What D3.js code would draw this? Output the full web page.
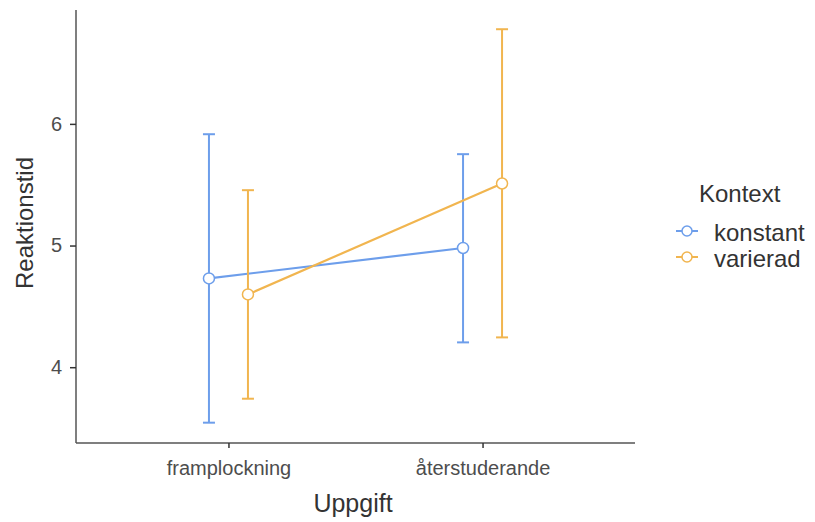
<!DOCTYPE html>
<html>
<head>
<meta charset="utf-8">
<script src="https://cdn.jsdelivr.net/npm/d3@7"></script>
<style>
  html, body { margin: 0; padding: 0; background: #fff; }
  svg { display: block; font-family: "Liberation Sans", Arial, sans-serif; }
</style>
</head>
<body>
<svg id="chart" width="815" height="522"></svg>
<script>
// Task categories on the x axis and context groups
const tasks = ["framplockning", "återstuderande"];
const contexts = ["konstant", "varierad"];
const colors = ["#6d9eeb", "#f1b54f"];

// Mean reaction time and interval bounds per context (ordered as tasks)
const konstantMean = [4.73, 4.98];
const konstantLow  = [3.544, 4.204];
const konstantHigh = [5.915, 5.751];
const varieradMean = [4.598, 5.51];
const varieradLow  = [3.741, 4.245];
const varieradHigh = [5.455, 6.778];

const yTicks = [4, 5, 6];

const series = [
  { name: contexts[0], color: colors[0], mean: konstantMean, low: konstantLow, high: konstantHigh },
  { name: contexts[1], color: colors[1], mean: varieradMean, low: varieradLow, high: varieradHigh }
];

const svg = d3.select("#chart");
const plotL = 76, plotR = 635, plotT = 10, plotB = 443;

const x = d3.scalePoint().domain(tasks).range([plotL, plotR]).padding(0.6);
const dodge = d3.scalePoint().domain(contexts).range([-19.5, 19.5]);
const y = d3.scaleLinear().domain([3.377, 6.936]).range([plotB, plotT]);

// Axes
const xAxis = svg.append("g").attr("transform", `translate(0,${plotB})`)
  .call(d3.axisBottom(x).tickSize(5).tickPadding(13));
xAxis.select(".domain").attr("d", `M${plotL},0H${plotR}`);
const yAxis = svg.append("g").attr("transform", `translate(${plotL},0)`)
  .call(d3.axisLeft(y).tickValues(yTicks).tickSize(6).tickPadding(8).tickFormat(d3.format("d")));
yAxis.select(".domain").attr("d", `M0,${plotT}V${plotB}`);

svg.selectAll(".domain").attr("stroke", "#555").attr("stroke-width", 1.5);
svg.selectAll(".tick line").attr("stroke", "#333").attr("stroke-width", 1.5);
svg.selectAll(".tick text").attr("fill", "#4d4d4d").style("font-size", "20px");

// Axis titles
svg.append("text").attr("x", 353).attr("y", 512)
  .attr("text-anchor", "middle").attr("fill", "#333").style("font-size", "25px").text("Uppgift");
svg.append("text").attr("transform", `translate(33,223) rotate(-90)`)
  .attr("text-anchor", "middle").attr("fill", "#333").style("font-size", "24px").text("Reaktionstid");

// Error bars, connecting lines and points
const cap = 6;
series.forEach(s => {
  const g = svg.append("g");
  const px = i => x(tasks[i]) + dodge(s.name);
  tasks.forEach((t, i) => {
    g.append("line").attr("x1", px(i)).attr("x2", px(i))
      .attr("y1", y(s.low[i])).attr("y2", y(s.high[i]))
      .attr("stroke", s.color).attr("stroke-width", 2);
    [s.low[i], s.high[i]].forEach(v => {
      g.append("line").attr("x1", px(i) - cap).attr("x2", px(i) + cap)
        .attr("y1", y(v)).attr("y2", y(v))
        .attr("stroke", s.color).attr("stroke-width", 2);
    });
  });
  g.append("path")
    .attr("d", d3.line().x((d, i) => px(i)).y(d => y(d))(s.mean))
    .attr("fill", "none").attr("stroke", s.color).attr("stroke-width", 2.2);
  g.selectAll("circle").data(s.mean).join("circle")
    .attr("cx", (d, i) => px(i)).attr("cy", d => y(d)).attr("r", 5.5)
    .attr("fill", "#fff").attr("stroke", s.color).attr("stroke-width", 1.5);
});

// Legend
const legend = svg.append("g");
legend.append("text").attr("x", 699).attr("y", 202).attr("fill", "#333")
  .style("font-size", "24px").text("Kontext");
series.forEach((s, i) => {
  const ly = 231 + i * 26;
  legend.append("line").attr("x1", 676).attr("x2", 698).attr("y1", ly).attr("y2", ly)
    .attr("stroke", s.color).attr("stroke-width", 2);
  legend.append("circle").attr("cx", 687).attr("cy", ly).attr("r", 5)
    .attr("fill", "#fff").attr("stroke", s.color).attr("stroke-width", 1.5);
  legend.append("text").attr("x", 714).attr("y", ly + 10).attr("fill", "#333")
    .style("font-size", "24px").text(s.name);
});
</script>
</body>
</html>
